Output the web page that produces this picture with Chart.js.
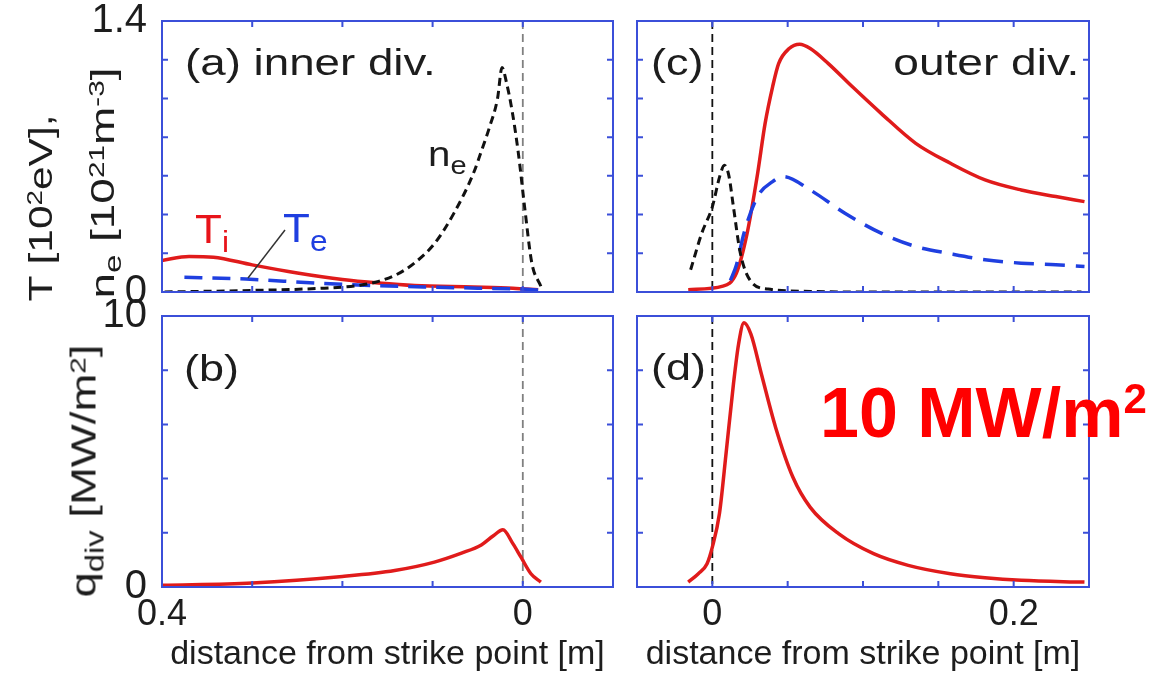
<!DOCTYPE html>
<html>
<head>
<meta charset="utf-8">
<script src="https://cdn.jsdelivr.net/npm/chart.js@4.4.1/dist/chart.umd.min.js"></script>
<style>
  html, body { margin: 0; padding: 0; background: #fff; }
  #wrap { position: relative; width: 1150px; height: 675px; overflow: hidden; font-family: "Liberation Sans", Arial, sans-serif; }
  .pane { position: absolute; }
  .lbl { position: absolute; line-height: 1; white-space: nowrap; transform-origin: left top; color: #1d1d1d; }
  .rot { position: absolute; line-height: 1; white-space: nowrap; transform-origin: 50% 50%; color: #1d1d1d; }
  .sub { font-size: 0.72em; position: relative; top: 0.3em; }
  .sup { font-size: 0.65em; position: relative; top: -0.45em; }
</style>
</head>
<body>
<div id="wrap">
  <div class="pane" style="left:0;top:0"><canvas id="cA" width="625" height="313"></canvas></div>
  <div class="pane" style="left:0;top:295px"><canvas id="cB" width="625" height="380"></canvas></div>
  <div class="pane" style="left:625px;top:0"><canvas id="cC" width="525" height="313"></canvas></div>
  <div class="pane" style="left:625px;top:295px"><canvas id="cD" width="525" height="380"></canvas></div>

  <!-- axis titles -->
  <div class="rot" style="left:40px;top:208px;font-size:34px;transform:translate(-50%,-50%) rotate(-90deg) scaleX(1.25)">T [10<span class="sup">2</span>eV],</div>
  <div class="rot" style="left:102px;top:183px;font-size:34px;transform:translate(-50%,-50%) rotate(-90deg) scaleX(1.35)">n<span class="sub">e</span> [10<span class="sup">21</span>m<span class="sup">-3</span>]</div>
  <div class="rot" style="left:83px;top:471px;font-size:35px;transform:translate(-50%,-50%) rotate(-90deg) scaleX(1.3)">q<span class="sub">div</span> [MW/m<span class="sup">2</span>]</div>

  <!-- panel labels -->
  <div class="lbl" style="left:185px;top:45px;font-size:36px;transform:scaleX(1.27)">(a) inner div.</div>
  <div class="lbl" style="left:651px;top:45px;font-size:36px;transform:scaleX(1.25)">(c)</div>
  <div class="lbl" style="right:71px;top:45px;font-size:36px;transform:scaleX(1.28);transform-origin:right top">outer div.</div>
  <div class="lbl" style="left:184px;top:351px;font-size:36px;transform:scaleX(1.25)">(b)</div>
  <div class="lbl" style="left:651px;top:350px;font-size:36px;transform:scaleX(1.25)">(d)</div>

  <div class="lbl" style="left:428px;top:136px;font-size:35px;transform:scaleX(1.15)">n<span class="sub">e</span></div>
  <div class="lbl" style="left:195px;top:209px;font-size:40px;color:#e8141a;transform:scaleX(1.1)">T<span class="sub">i</span></div>
  <div class="lbl" style="left:283px;top:208px;font-size:40px;color:#1f3fe0;transform:scaleX(1.1)">T<span class="sub">e</span></div>
  <svg style="position:absolute;left:0;top:0" width="1150" height="675">
    <line x1="285" y1="230" x2="248" y2="278" stroke="#333" stroke-width="1.5"/>
  </svg>

  <div class="lbl" style="left:820px;top:378px;font-size:70px;font-weight:bold;color:#ff0000">10 MW/m<span style="font-size:42px;position:relative;top:-24px">2</span></div>
</div>

<script>
// (a) inner divertor: density and temperatures
const neInnerX = [-0.02, -0.01, -0.002, 0.005, 0.012, 0.018, 0.023, 0.028, 0.037, 0.045, 0.055, 0.076, 0.098, 0.12, 0.14, 0.16, 0.18, 0.22, 0.30, 0.40];
const neInner  = [0.03, 0.15, 0.44, 0.72, 0.94, 1.08, 1.16, 1.00, 0.85, 0.74, 0.61, 0.41, 0.25, 0.15, 0.09, 0.055, 0.035, 0.02, 0.008, 0.0];
const tiInnerX = [-0.017, 0.011, 0.055, 0.12, 0.16, 0.20, 0.25, 0.30, 0.343, 0.37, 0.40];
const tiInner  = [0.012, 0.02, 0.026, 0.033, 0.046, 0.064, 0.098, 0.14, 0.18, 0.184, 0.163];
const teInnerX = [-0.017, 0.0, 0.05, 0.10, 0.164, 0.23, 0.307, 0.382];
const teInner  = [0.01, 0.015, 0.02, 0.025, 0.033, 0.046, 0.067, 0.077];

// (c) outer divertor
const neOuterX = [-0.0144, -0.007, 0.0, 0.005, 0.008, 0.011, 0.014, 0.0186, 0.0256, 0.037, 0.065, 0.10, 0.15, 0.20, 0.245];
const neOuter  = [0.115, 0.304, 0.44, 0.60, 0.655, 0.60, 0.44, 0.2, 0.055, 0.015, 0.003, 0.0, 0.0, 0.0, 0.0];
const tiOuterX = [-0.016, 0.007, 0.016, 0.023, 0.03, 0.035, 0.04, 0.044, 0.051, 0.058, 0.065, 0.077, 0.093, 0.112, 0.135, 0.158, 0.181, 0.205, 0.228, 0.247];
const tiOuter  = [0.012, 0.03, 0.098, 0.30, 0.61, 0.87, 1.06, 1.18, 1.258, 1.28, 1.258, 1.18, 1.06, 0.923, 0.768, 0.665, 0.579, 0.527, 0.493, 0.467];
const teOuterX = [0.012, 0.016, 0.021, 0.03, 0.04, 0.047, 0.065, 0.088, 0.112, 0.135, 0.158, 0.181, 0.205, 0.228, 0.247];
const teOuter  = [0.06, 0.14, 0.304, 0.493, 0.57, 0.596, 0.527, 0.407, 0.304, 0.235, 0.198, 0.167, 0.149, 0.141, 0.132];

// (b), (d) divertor heat flux
const qInnerX = [-0.02, -0.009, 0.002, 0.011, 0.022, 0.033, 0.046, 0.068, 0.098, 0.142, 0.2, 0.3, 0.4];
const qInner  = [0.18, 0.49, 1.1, 1.6, 2.11, 1.88, 1.55, 1.25, 0.92, 0.61, 0.39, 0.15, 0.06];
const qOuterX = [-0.016, -0.0093, -0.0035, 0, 0.0047, 0.0093, 0.014, 0.0174, 0.021, 0.0256, 0.0326, 0.042, 0.0535, 0.065, 0.084, 0.107, 0.13, 0.158, 0.181, 0.205, 0.247];
const qOuter  = [0.18, 0.49, 0.86, 1.47, 2.7, 5.03, 7.48, 8.96, 9.75, 9.33, 7.85, 5.89, 4.05, 2.94, 1.96, 1.23, 0.80, 0.49, 0.34, 0.245, 0.18];

const tTicks = ["0", "1.4"];
const qTicks = ["0", "10"];
const xInnerTicks = ["0.4", "0"];
const xOuterTicks = ["0", "0.2"];

const RED = "#e01b1b", BLUE = "#1f3fe0", BLACK = "#111", FRAME = "#3b4fd9";
Chart.defaults.font.family = '"Liberation Sans", Arial, sans-serif';
Chart.defaults.color = "#1d1d1d";

const pts = (xs, ys) => xs.map((x, i) => ({ x: x, y: ys[i] }));
const near = (v, s) => Math.abs(v - parseFloat(s)) < 1e-6;

// blue box with inward ticks on all sides + dashed strike point line
const boxPlugin = {
  id: "box",
  beforeDatasetsDraw(chart, args, opts) {
    const { ctx, chartArea: a, scales: { x } } = chart;
    const px = x.getPixelForValue(0);
    ctx.save();
    ctx.strokeStyle = opts.zeroColor;
    ctx.lineWidth = 1.8;
    ctx.setLineDash([8, 5]);
    ctx.beginPath();
    ctx.moveTo(px, a.top);
    ctx.lineTo(px, a.bottom);
    ctx.stroke();
    ctx.restore();
  },
  afterDatasetsDraw(chart) {
    const { ctx, chartArea: a, scales: { x, y } } = chart;
    ctx.save();
    ctx.strokeStyle = FRAME;
    ctx.lineWidth = 2;
    ctx.strokeRect(a.left, a.top, a.right - a.left, a.bottom - a.top);
    ctx.beginPath();
    x.ticks.forEach(t => {
      const p = x.getPixelForValue(t.value);
      ctx.moveTo(p, a.bottom); ctx.lineTo(p, a.bottom - 6);
      ctx.moveTo(p, a.top); ctx.lineTo(p, a.top + 6);
    });
    y.ticks.forEach(t => {
      const p = y.getPixelForValue(t.value);
      ctx.moveTo(a.left, p); ctx.lineTo(a.left + 6, p);
      ctx.moveTo(a.right, p); ctx.lineTo(a.right - 6, p);
    });
    ctx.stroke();
    ctx.restore();
  }
};

function line(data, color, dash, width) {
  return {
    data: data, borderColor: color, borderWidth: width, borderDash: dash,
    pointRadius: 0, fill: false, cubicInterpolationMode: "monotone"
  };
}

function mountChart(id, cfg) {
  const xLabels = cfg.xLabels;
  const yLabels = cfg.yLabels;
  new Chart(document.getElementById(id), {
    type: "line",
    data: { datasets: cfg.datasets },
    options: {
      responsive: false,
      animation: false,
      layout: { padding: cfg.padding },
      plugins: { legend: { display: false }, tooltip: { enabled: false }, box: { zeroColor: cfg.zeroColor } },
      scales: {
        x: {
          type: "linear", min: cfg.xMin, max: cfg.xMax, reverse: cfg.reverse,
          grid: { display: false, drawTicks: false }, border: { display: false },
          ticks: {
            display: !!xLabels, stepSize: cfg.xStep, padding: 6,
            font: { size: 36 },
            callback: v => (xLabels && xLabels.find(s => near(v, s))) || ""
          },
          title: {
            display: !!xLabels, text: "distance from strike point [m]",
            font: { size: 34 }, padding: { top: 0, bottom: 0 }
          },
          afterFit: s => { s.height = cfg.xHeight; }
        },
        y: {
          min: 0, max: cfg.yMax,
          grid: { display: false, drawTicks: false }, border: { display: false },
          ticks: {
            display: !!yLabels, stepSize: cfg.yStep, padding: 15,
            font: { size: 40, lineHeight: 0.3 },
            callback: v => (yLabels && yLabels.find(s => near(v, s))) || ""
          },
          afterFit: s => { s.width = cfg.yWidth; }
        }
      }
    },
    plugins: [boxPlugin]
  });
}

mountChart("cA", {
  datasets: [
    line(pts(neInnerX, neInner), BLACK, [8, 5], 3),
    line(pts(teInnerX, teInner), BLUE, [18, 10], 3.5),
    line(pts(tiInnerX, tiInner), RED, [], 3.5)
  ],
  xMin: -0.1, xMax: 0.4, xStep: 0.1, reverse: true, yMax: 1.4, yStep: 0.2,
  yLabels: tTicks, xLabels: null, yWidth: 162, xHeight: 21,
  padding: { top: 21, right: 12, left: 0, bottom: 0 }, zeroColor: "#808080"
});

mountChart("cB", {
  datasets: [line(pts(qInnerX, qInner), RED, [], 3.5)],
  xMin: -0.1, xMax: 0.4, xStep: 0.1, reverse: true, yMax: 10, yStep: 2,
  yLabels: qTicks, xLabels: xInnerTicks, yWidth: 162, xHeight: 88,
  padding: { top: 21, right: 12, left: 0, bottom: 0 }, zeroColor: "#808080"
});

mountChart("cC", {
  datasets: [
    line(pts(neOuterX, neOuter), BLACK, [8, 5], 3),
    line(pts(teOuterX, teOuter), BLUE, [20, 11], 3.5),
    line(pts(tiOuterX, tiOuter), RED, [], 3.5)
  ],
  xMin: -0.05, xMax: 0.25, xStep: 0.05, reverse: false, yMax: 1.4, yStep: 0.2,
  yLabels: null, xLabels: null, yWidth: 12, xHeight: 21,
  padding: { top: 21, right: 61, left: 0, bottom: 0 }, zeroColor: "#111"
});

mountChart("cD", {
  datasets: [line(pts(qOuterX, qOuter), RED, [], 3.5)],
  xMin: -0.05, xMax: 0.25, xStep: 0.05, reverse: false, yMax: 10, yStep: 2,
  yLabels: null, xLabels: xOuterTicks, yWidth: 12, xHeight: 88,
  padding: { top: 21, right: 61, left: 0, bottom: 0 }, zeroColor: "#111"
});
</script>
</body>
</html>
